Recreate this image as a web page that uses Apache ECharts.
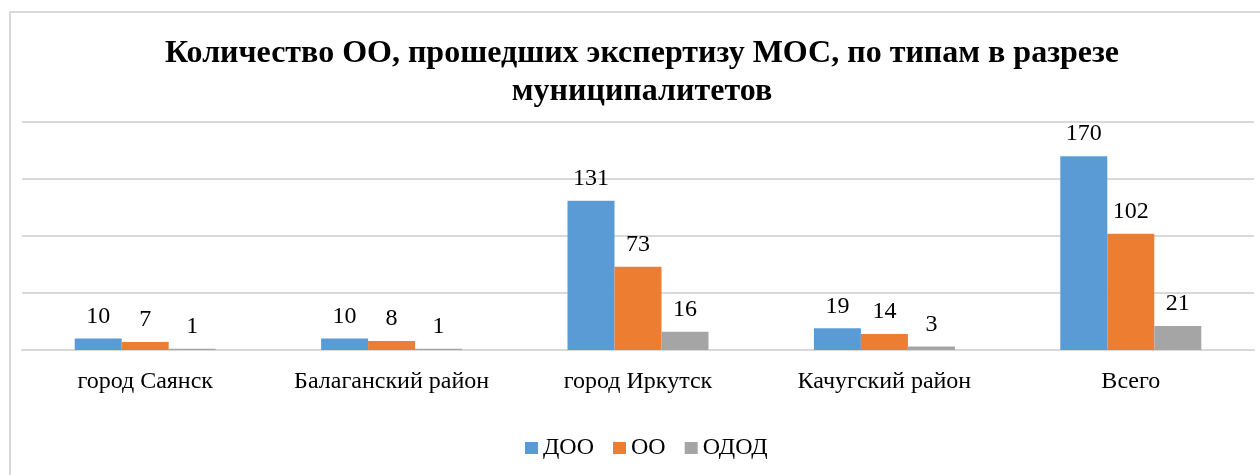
<!DOCTYPE html>
<html><head><meta charset="utf-8">
<script src="https://cdn.jsdelivr.net/npm/echarts@6/dist/echarts.min.js"></script>
<style>html,body{margin:0;padding:0;background:#fff}#c{width:1260px;height:475px}</style>
</head><body><div id="c"></div>
<script>
const categories = ['город Саянск', 'Балаганский район', 'город Иркутск', 'Качугский район', 'Всего'];
const seriesNames = ['ДОО', 'ОО', 'ОДОД'];
const doo = [10, 10, 131, 19, 170];
const oo = [7, 8, 73, 14, 102];
const odod = [1, 1, 16, 3, 21];
const colors = ['#5B9BD5', '#ED7D31', '#A5A5A5'];
const titleText = 'Количество ОО, прошедших экспертизу МОС, по типам в разрезе\nмуниципалитетов';

const font = '"Liberation Serif", "Times New Roman", serif';
const chart = echarts.init(document.getElementById('c'), null, {renderer: 'canvas'});
const mk = (name, data, i) => ({
  name, type: 'bar', data, barWidth: 47, barGap: '0%',
  itemStyle: {color: colors[i]},
  label: {show: true, position: 'top', distance: 10, color: '#000', fontFamily: font, fontSize: 24}
});
chart.setOption({
  animation: false,
  textStyle: {fontFamily: font},
  graphic: [{type: 'rect', shape: {x: 10, y: 12, width: 1400, height: 600},
    style: {fill: 'none', stroke: '#d9d9d9', lineWidth: 2}, silent: true}],
  title: {text: titleText, left: 637, textAlign: 'center', top: 30,
    textStyle: {fontFamily: font, fontSize: 32, fontWeight: 'bold', color: '#000', lineHeight: 38}},
  legend: {bottom: 10, left: 520, itemWidth: 13, itemHeight: 12, itemGap: 19,
    icon: 'rect', textStyle: {fontFamily: font, fontSize: 24, color: '#000'}},
  grid: {left: 22, right: 6, top: 122, bottom: 125, containLabel: false},
  xAxis: {type: 'category', data: categories,
    axisLine: {lineStyle: {color: '#d9d9d9', width: 2}}, axisTick: {show: false},
    axisLabel: {fontFamily: font, fontSize: 24, color: '#000', margin: 20, interval: 0}},
  yAxis: {type: 'value', min: 0, max: 200, interval: 50, axisLabel: {show: false},
    axisLine: {show: false}, axisTick: {show: false},
    splitLine: {lineStyle: {color: '#d9d9d9', width: 2}}},
  series: [mk(seriesNames[0], doo, 0), mk(seriesNames[1], oo, 1), mk(seriesNames[2], odod, 2)]
});
</script></body></html>
